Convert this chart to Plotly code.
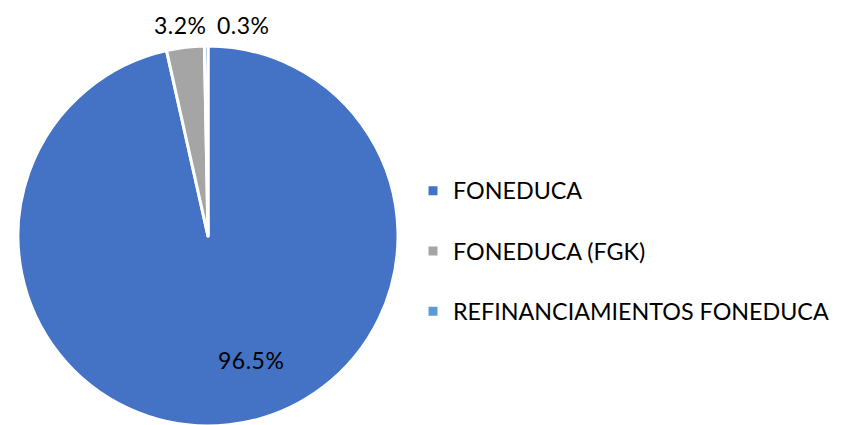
import plotly.graph_objects as go

categories = ["FONEDUCA", "FONEDUCA (FGK)", "REFINANCIAMIENTOS FONEDUCA"]
values = [96.5, 3.2, 0.3]
colors = ["#4472C4", "#A5A5A5", "#5B9BD5"]
label_texts = ["96.5%", "3.2%", "0.3%"]

W, H = 844, 425
OFF = 8  # browser default body margin
FONT = "Lato"
LEG_SPAN = "<span style='font-size:23.3px'>{}</span>"
LBL_SPAN = "<span style='font-size:23px;letter-spacing:0.5px'>{}</span>"

def px(x):
    return (x - OFF) / W

def py(y):
    return 1 - (y - OFF) / H

fig = go.Figure(go.Pie(
    labels=[LEG_SPAN.format(c) + "<br> " for c in categories],
    values=values,
    sort=False,
    direction="clockwise",
    rotation=0,
    marker=dict(colors=colors, line=dict(color="white", width=3)),
    textinfo="none",
    hoverinfo="skip",
    domain=dict(x=[px(18), px(398)], y=[py(426), py(46)]),
))

# data label positions (screen pixel positions of label text centres)
label_pos = [(251, 360), (180, 25), (243, 25)]
for txt, (lx, ly) in zip(label_texts, label_pos):
    fig.add_annotation(x=px(lx), y=py(ly), xref="paper", yref="paper",
                       text=LBL_SPAN.format(txt), showarrow=False,
                       font=dict(family=FONT, size=23, color="#000000"),
                       xanchor="center", yanchor="middle")

fig.update_layout(
    width=W, height=H,
    margin=dict(l=0, r=0, t=0, b=0),
    paper_bgcolor="white",
    plot_bgcolor="white",
    font=dict(family=FONT, size=22, color="#000000"),
    showlegend=True,
    legend=dict(x=px(413), y=py(170), xanchor="left", yanchor="top",
                valign="top", itemwidth=30,
                font=dict(family=FONT, size=22, color="#000000"),
                bgcolor="rgba(0,0,0,0)"),
)

fig.write_html("out.html")
